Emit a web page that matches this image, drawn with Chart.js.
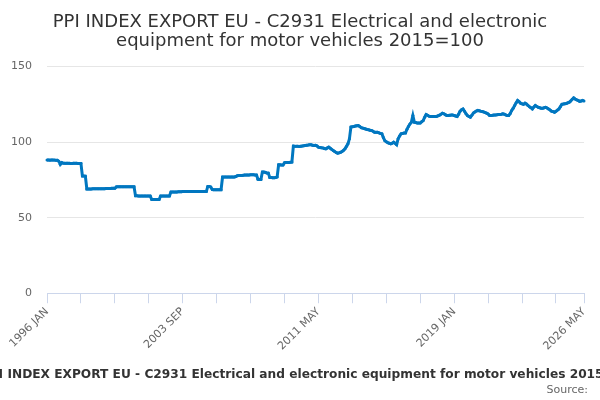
<!DOCTYPE html>
<html>
<head>
<meta charset="utf-8">
<script src="https://cdn.jsdelivr.net/npm/chart.js@4/dist/chart.umd.min.js"></script>
<style>
  html, body { margin: 0; padding: 0; background: #fff; }
  #wrap { position: relative; width: 600px; height: 400px; overflow: hidden; font-family: "DejaVu Sans", sans-serif; }
  #c { position: absolute; left: 0; top: 0; }
  #caption { position: absolute; left: -290px; width: 1200px; top: 366px; line-height: 16px; text-align: center; font-size: 12.2px; font-weight: bold; color: #333; white-space: nowrap; }
  #source { position: absolute; right: 12px; top: 383px; line-height: 14px; font-size: 11px; color: #666; }
</style>
</head>
<body>
<div id="wrap">
  <canvas id="c" width="600" height="400"></canvas>
  <div id="caption">PPI INDEX EXPORT EU - C2931 Electrical and electronic equipment for motor vehicles 2015=100</div>
  <div id="source">Source:</div>
</div>
<script>
const titleLines = ["PPI INDEX EXPORT EU - C2931 Electrical and electronic", "equipment for motor vehicles 2015=100"];
const monthNames = ["JAN","FEB","MAR","APR","MAY","JUN","JUL","AUG","SEP","OCT","NOV","DEC"];
const startYear = 1996;
const labelEvery = 92;
const tickEvery = 23;
const yTicks = [0, 50, 100, 150];

const ppiValues = [
  88.2,88.2,88.1,88.2,88.2,88.1,88.0,88.0,
  87.4,85.3,86.5,
  86.1,86.0,86.0,86.0,86.0,85.9,85.9,86.0,86.0,86.0,85.9,85.9,85.9,
  77.6,77.6,77.5,
  69.0,69.0,69.0,69.0,69.1,69.1,69.1,69.1,69.2,69.2,69.2,69.2,69.2,69.3,69.3,69.3,69.3,69.4,69.4,69.4,
  70.4,70.5,70.5,70.5,70.5,70.5,70.5,70.5,70.4,70.4,70.4,70.4,70.4,
  64.5,64.5,64.4,64.4,64.4,64.3,64.3,64.3,64.3,64.3,64.3,
  62.0,62.0,62.0,62.0,62.0,62.0,
  64.4,64.4,64.4,64.4,64.4,64.4,64.4,
  67.0,67.0,67.0,67.0,67.0,67.1,67.2,67.2,67.3,67.3,67.3,67.3,67.4,67.4,67.4,67.4,67.3,67.3,67.3,67.3,67.3,67.3,67.3,67.3,67.3,
  70.7,70.7,70.3,
  68.6,68.5,68.5,68.5,68.5,68.5,68.5,
  76.9,76.9,76.9,76.9,76.9,76.9,77.0,77.0,77.0,77.2,
  77.8,77.9,78.0,78.0,78.1,78.2,78.2,78.3,78.3,78.4,78.4,78.4,78.3,78.3,
  75.4,75.3,75.3,
  80.2,80.2,80.0,79.6,79.5,
  76.6,76.6,76.5,76.5,76.6,77.0,
  85.0,85.0,84.8,84.8,
  86.4,86.5,86.6,86.6,86.7,86.8,
  97.4,97.3,97.2,97.2,97.1,97.3,97.5,97.6,
  97.8,98.0,98.1,98.3,98.2,98.0,97.8,97.9,97.5,
  96.7,96.5,96.3,96.2,95.8,95.6,96.2,
  96.7,96.0,95.2,94.5,93.8,93.2,92.7,92.9,93.3,93.8,94.6,
  95.6,97.2,98.9,102.2,
  110.0,110.2,110.4,110.7,110.9,111.0,110.3,109.6,
  109.3,109.0,108.7,108.4,108.2,107.9,107.7,107.2,106.6,
  106.6,106.6,106.2,105.8,105.5,103.0,
  101.0,100.2,99.6,99.3,98.9,99.3,100.0,99.2,98.3,
  102.2,104.0,105.5,105.8,106.0,106.0,108.5,110.4,112.0,113.2,
  117.6,113.2,113.0,112.6,112.6,112.6,113.5,114.3,116.5,
  118.3,117.8,117.2,117.0,117.0,117.0,117.0,117.0,117.4,117.8,118.4,
  119.2,118.8,118.2,117.6,117.6,117.8,118.0,118.0,117.6,117.3,117.0,
  118.5,120.5,121.5,122.0,120.5,118.8,117.6,117.0,116.5,117.8,119.3,120.0,
  120.6,121.0,120.8,120.5,120.3,120.0,119.6,119.2,118.6,117.6,
  117.7,117.8,118.0,118.0,118.1,118.3,118.3,118.5,118.8,118.5,118.0,117.6,117.6,119.0,
  121.0,122.5,124.3,126.0,127.6,126.8,125.8,125.4,125.0,125.8,
  125.2,124.3,123.5,122.8,122.0,123.2,124.3,123.6,123.1,122.8,
  122.5,122.5,122.8,123.1,122.6,122.0,121.3,120.5,120.2,119.8,
  120.5,121.2,122.0,123.5,125.0,125.2,125.4,125.6,126.0,126.4,
  127.3,128.4,129.3,128.6,128.0,127.6,127.0,127.2,127.6,127.3
];

const monthLabels = ppiValues.map((v, i) => (startYear + Math.floor(i / 12)) + " " + monthNames[i % 12]);
const lastIndex = monthLabels.length - 1;

const lineColor = "#0077c0";

new Chart(document.getElementById("c"), {
  type: "line",
  data: {
    labels: monthLabels,
    datasets: [{
      label: "PPI",
      data: ppiValues,
      borderColor: lineColor,
      backgroundColor: lineColor,
      borderWidth: 3,
      pointRadius: 1.5,
      pointHoverRadius: 2,
      pointBorderWidth: 0,
      tension: 0
    }]
  },
  options: {
    responsive: false,
    animation: false,
    devicePixelRatio: 1,
    layout: { padding: { left: 0, right: 0, top: 0, bottom: 45 } },
    plugins: {
      legend: { display: false },
      tooltip: { enabled: false },
      title: {
        display: true,
        text: titleLines,
        color: "#333333",
        font: { family: "DejaVu Sans", size: 18, weight: "normal", lineHeight: 1.1 },
        padding: { top: 12, bottom: 15 }
      }
    },
    scales: {
      x: {
        type: "category",
        offset: false,
        afterFit: (s) => { s.paddingLeft = 0; s.paddingRight = 0; },
        border: { display: true, color: "#ccd6eb", width: 1 },
        grid: {
          drawOnChartArea: false,
          drawTicks: true,
          tickLength: 10,
          color: (ctx) => (ctx.index % tickEvery === 0 || ctx.index === lastIndex) ? "#ccd6eb" : "rgba(0,0,0,0)"
        },
        ticks: {
          autoSkip: false,
          minRotation: 45,
          maxRotation: 45,
          padding: 2,
          color: "#666666",
          font: { family: "DejaVu Sans", size: 11 },
          callback: (val, idx) => (idx % labelEvery === 0 || idx === lastIndex) ? monthLabels[idx] : ""
        }
      },
      y: {
        min: yTicks[0],
        max: yTicks[yTicks.length - 1],
        afterBuildTicks: (scale) => { scale.ticks = yTicks.map(v => ({ value: v })); },
        afterFit: (s) => { s.width = 47; },
        border: { display: false },
        grid: { color: "#e6e6e6", drawTicks: false, lineWidth: 1 },
        ticks: {
          padding: 15,
          color: "#666666",
          font: { family: "DejaVu Sans", size: 11 }
        }
      },
      yRight: {
        position: "right",
        display: true,
        afterFit: (s) => { s.width = 16; },
        border: { display: false },
        grid: { display: false, drawTicks: false },
        ticks: { display: false }
      }
    }
  }
});
</script>
</body>
</html>
